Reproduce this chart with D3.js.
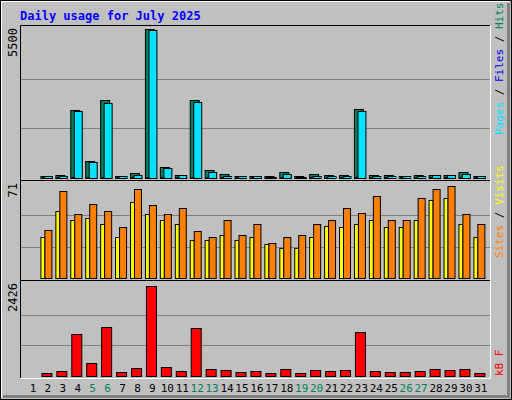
<!DOCTYPE html>
<html><head><meta charset="utf-8">
<script src="https://cdn.jsdelivr.net/npm/d3@7"></script>
<style>body{margin:0;background:#fff}svg{display:block}text{font-family:"DejaVu Sans Mono",monospace}</style>
</head><body><svg id="chart"></svg>
<script>
// Data
const days = d3.range(1, 32);
const weekends = [5, 6, 12, 13, 19, 20, 26, 27];
const hits  = [0, 75, 110, 2500, 640, 2880, 75, 190, 5500, 410, 110, 2880, 300, 150, 75, 75, 75, 225, 75, 150, 110, 110, 2540, 110, 110, 75, 110, 110, 110, 225, 75];
const files = [0, 75, 75, 2460, 590, 2770, 60, 110, 5460, 370, 110, 2800, 220, 75, 75, 75, 40, 150, 40, 75, 75, 75, 2460, 75, 75, 75, 75, 110, 110, 150, 75];
const pages = [0, 30, 30, 40, 30, 40, 30, 30, 40, 30, 30, 40, 30, 30, 30, 30, 30, 30, 30, 30, 30, 30, 40, 30, 30, 30, 30, 30, 30, 30, 30];
const sites  = [0, 32, 52, 45, 46, 42, 32, 59, 49, 45, 42, 29, 29, 33, 29, 32, 26, 23, 23, 32, 40, 39, 42, 45, 39, 39, 45, 60, 62, 42, 32];
const visits = [0, 37, 67, 49, 57, 52, 39, 69, 56, 49, 54, 36, 32, 45, 33, 42, 27, 32, 33, 42, 45, 54, 50, 63, 45, 45, 62, 69, 71, 49, 42];
const kbytes = [0, 71, 124, 1124, 354, 1319, 97, 204, 2426, 230, 124, 1292, 177, 150, 97, 124, 71, 177, 71, 150, 124, 150, 1186, 124, 97, 97, 124, 177, 150, 177, 71];

const width = 512, height = 400;
const left = 20, right = 490;
const svg = d3.select('#chart').attr('width', width).attr('height', height);

// frame with 3d edge
svg.append('rect').attr('x', 0.5).attr('y', 0.5).attr('width', 511).attr('height', 399)
  .attr('fill', '#c0c0c0').attr('stroke', '#000');
svg.append('path').attr('d', 'M1.5,397.5V1.5H509.5').attr('fill', 'none').attr('stroke', '#fff');
svg.append('path').attr('d', 'M508.5,3V396.5H3').attr('fill', 'none').attr('stroke', '#808080').attr('stroke-width', 3);

svg.append('text').attr('x', 20).attr('y', 20).attr('fill', '#0000ff')
  .attr('font-size', 12).attr('font-weight', 'bold').text('Daily usage for July 2025');

const x = d3.scaleBand().domain(days).range([25.5, 488.3]);

function panel(top, bottom, max, label) {
  const y = d3.scaleLinear().domain([0, max]).range([bottom - 2, top + 4]);
  svg.append('rect').attr('x', left).attr('y', top).attr('width', right - left).attr('height', bottom - top).attr('fill', '#c0c0c0');
  [1, 2].forEach(i => {
    const gy = Math.round(bottom - 2 - (bottom - 2 - top - 4) * i / 3) + 0.5;
    svg.append('line').attr('x1', left).attr('x2', right).attr('y1', gy).attr('y2', gy).attr('stroke', '#808080');
  });
  svg.append('path').attr('d', `M${left + 0.5},${bottom}V${top + 0.5}H${right}`).attr('fill', 'none').attr('stroke', '#000');
  svg.append('path').attr('d', `M${right + 0.5},${top}V${bottom + 0.5}H${left}`).attr('fill', 'none').attr('stroke', '#fff');
  svg.append('text').attr('transform', `translate(17,${top + 3}) rotate(-90)`).attr('text-anchor', 'end')
    .attr('font-size', 12).text(label);
  return y;
}

function bars(y, data, dx, w, fill) {
  svg.append('g').selectAll('rect').data(days.filter((d, i) => data[i] > 0)).join('rect')
    .attr('x', d => x(d) + dx + 0.5).attr('width', w)
    .attr('y', d => Math.round(y(data[d - 1])) + 0.5)
    .attr('height', d => Math.max(1, y(0) - Math.round(y(data[d - 1]))))
    .attr('fill', fill).attr('stroke', '#000');
}

function sideLabel(cx, cy, parts) {
  const t = svg.append('text').attr('transform', `translate(${cx},${cy}) rotate(-90)`).attr('font-size', 11);
  parts.forEach(([s, c]) => t.append('tspan').attr('fill', c).text(s));
}

const yTop = panel(25, 180, 5500, '5500');
bars(yTop, hits, 0, 9, '#00805c');
bars(yTop, files, 3.5, 8, '#00e0ff');
bars(yTop, pages, 1.5, 2, '#0000ff');
sideLabel(503, 135, [['Pages', '#00e0ff'], [' / ', '#000'], ['Files', '#0000ff'], [' / ', '#000'], ['Hits', '#00805c']]);

const yMid = panel(180, 280, 72.5, '71');
bars(yMid, sites, 0, 4, '#ffff00');
bars(yMid, visits, 4, 7, '#ff8000');
sideLabel(503, 258, [['Sites', '#ff8000'], [' / ', '#000'], ['Visits', '#ffff00']]);

const yBot = panel(280, 378, 2470, '2426');
bars(yBot, kbytes, 1, 10, '#ff0000');
sideLabel(503, 376, [['kB F', '#ff0000']]);

svg.append('g').selectAll('text').data(days).join('text')
  .attr('x', d => x(d) + x.bandwidth() / 2).attr('y', 392).attr('text-anchor', 'middle')
  .attr('font-size', 11).attr('fill', d => weekends.includes(d) ? '#00805c' : '#000').text(d => d);
</script></body></html>
